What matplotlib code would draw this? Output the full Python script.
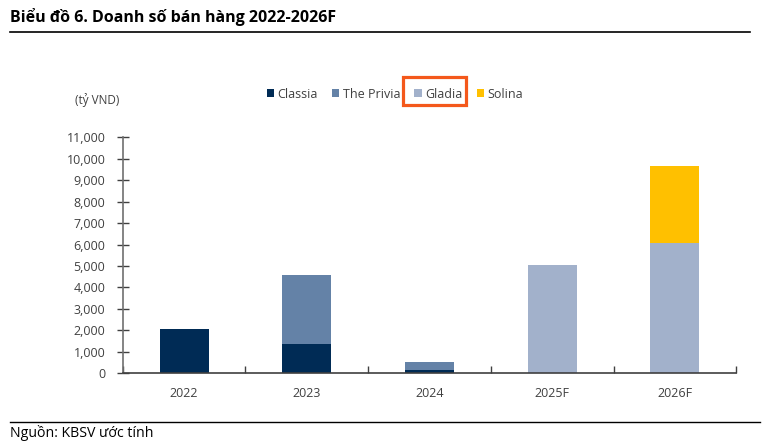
import matplotlib
matplotlib.use("Agg")
import matplotlib.pyplot as plt
from matplotlib.patches import Rectangle, Patch
from matplotlib.lines import Line2D
from matplotlib.ticker import FuncFormatter, MultipleLocator, FixedLocator
import numpy as np

categories = ["2022", "2023", "2024", "2025F", "2026F"]
series_names = ["Classia", "The Privia", "Gladia", "Solina"]
classia = [2050, 1380, 170, 0, 0]
privia = [0, 3190, 370, 0, 0]
gladia = [0, 0, 0, 5050, 6090]
solina = [0, 0, 0, 0, 3590]
colors = ["#002B55", "#6482A7", "#A2B1CB", "#FFC000"]

plt.rcParams['font.family'] = ['Open Sans', 'DejaVu Sans']

fig = plt.figure(figsize=(7.73, 4.41), dpi=100)
W, H = 773, 441
ax = fig.add_axes([122.7 / W, 1 - 373.3 / H, (736.3 - 122.7) / W, (373.3 - 137.3) / H])

x = np.arange(len(categories))
bottom = np.zeros(len(categories))
for name, vals, c in zip(series_names, [classia, privia, gladia, solina], colors):
    vals = np.array(vals, dtype=float)
    ax.bar(x, vals, width=0.4, bottom=bottom, color=c, label=name, zorder=2)
    bottom += vals

ax.set_xlim(-0.5, len(categories) - 0.5)
ax.set_ylim(0, 11000)
ax.yaxis.set_major_locator(MultipleLocator(1000))
ax.yaxis.set_major_formatter(FuncFormatter(lambda v, p: f"{int(v):,}"))
ax.set_xticks(x)
ax.set_xticklabels(categories)
ax.xaxis.set_minor_locator(FixedLocator(np.arange(-0.5, len(categories), 1.0)))
ax.tick_params(axis='x', which='major', length=0, pad=10, labelsize=9, labelcolor='#404040')
ax.tick_params(axis='x', which='minor', direction='in', length=5, width=1, color='#404040')
ax.tick_params(axis='y', direction='inout', length=9, width=1, color='#404040', labelsize=9,
               labelcolor='#404040', pad=8)
for s in ['top', 'right']:
    ax.spines[s].set_visible(False)
ax.spines['left'].set_color('#707070')
ax.spines['left'].set_linewidth(1.2)
ax.spines['bottom'].set_color('#404040')
ax.spines['bottom'].set_linewidth(1.2)

# Title
fig.text(10 / W, 1 - 17 / H, "Biểu đồ 6. Doanh số bán hàng 2022-2026F", fontsize=11.5,
         fontweight='bold', color='black', ha='left', va='center')
fig.add_artist(Line2D([10 / W, 750 / W], [1 - 32 / H, 1 - 32 / H], color='black', lw=1.2,
                      transform=fig.transFigure))
# Footer
fig.add_artist(Line2D([10 / W, 760 / W], [1 - 422 / H, 1 - 422 / H], color='black', lw=1.0,
                      transform=fig.transFigure))
fig.text(10 / W, 1 - 433 / H, "Nguồn: KBSV ước tính", fontsize=10.2, color='black',
         ha='left', va='center')

# Unit label
fig.text(75 / W, 1 - 100 / H, "(tỷ VND)", fontsize=8.5, color='#404040', ha='left', va='center')

# Legend
handles = [Patch(facecolor=c, edgecolor='none') for c in colors]
fig.legend(handles, series_names, loc='center', bbox_to_anchor=(395 / W, 1 - 94 / H),
           ncol=4, frameon=False, fontsize=9, handlelength=0.6, handleheight=0.6,
           handletextpad=0.3, columnspacing=1.1, labelcolor='#404040')

# Highlight box around Gladia
fig.add_artist(Rectangle((403 / W, 1 - 105 / H), 63 / W, 28 / H, fill=False,
                         edgecolor='#F4581B', lw=2.3, transform=fig.transFigure))

fig.savefig("out.png", dpi=100)
